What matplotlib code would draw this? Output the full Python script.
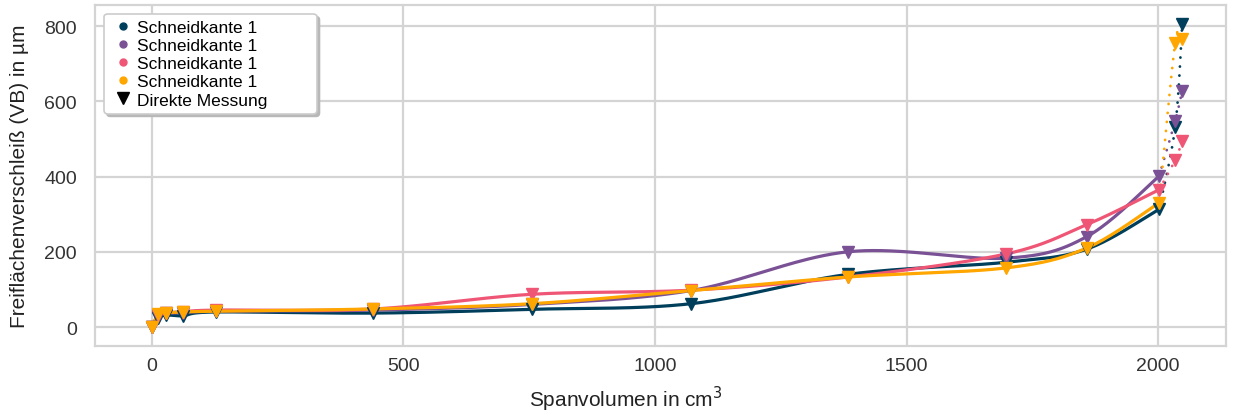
import numpy as np
import matplotlib.pyplot as plt
from matplotlib.lines import Line2D

plt.rcParams['font.family'] = ['Liberation Sans', 'DejaVu Sans']

# Spanvolumen (cm^3) der Messpunkte
vol = [0, 13, 28, 62, 127, 440, 755, 1072, 1384, 1697, 1858, 2002]
# extrapolierter Bereich (gepunktet)
vol_ext = [2002, 2034, 2048]

# Verschleiss VB in um je Schneidkante
vb_navy = [0, 25, 32, 30, 40, 37, 47, 62, 140, 172, 207, 313]
vb_purple = [0, 30, 36, 38, 42, 45, 60, 97, 200, 183, 240, 401]
vb_pink = [0, 33, 38, 40, 45, 48, 87, 98, 133, 194, 272, 365]
vb_orange = [0, 35, 38, 40, 42, 48, 62, 97, 133, 157, 210, 330]

ext_navy = [313, 532, 805]
ext_purple = [401, 548, 628]
ext_pink = [365, 444, 495]
ext_orange = [330, 755, 766]

colors = ['#003f5c', '#7a5195', '#ef5675', '#ffa600']
labels = ['Schneidkante 1'] * 4


def glatt(xs, ys, n=40):
    # geglaettete Linie wie in Excel (Bezier mit Tangenten aus Nachbarpunkten)
    p = np.column_stack([xs, ys]).astype(float)
    out = []
    for i in range(len(p) - 1):
        prev = p[i - 1] if i > 0 else p[i]
        nxt = p[i + 2] if i + 2 < len(p) else p[i + 1]
        c0 = p[i]
        c1 = p[i] + (p[i + 1] - prev) / 6
        c2 = p[i + 1] - (nxt - p[i]) / 6
        c3 = p[i + 1]
        t = np.linspace(0, 1, n)[:, None]
        seg = ((1 - t) ** 3 * c0 + 3 * (1 - t) ** 2 * t * c1
               + 3 * (1 - t) * t ** 2 * c2 + t ** 3 * c3)
        out.append(seg if i == 0 else seg[1:])
    out = np.vstack(out)
    return out[:, 0], out[:, 1]


fig = plt.figure(figsize=(12.39, 4.14), dpi=100)
ax = fig.add_axes([0.0767, 0.1618, 0.9128, 0.8237])

serien = [(vb_navy, ext_navy), (vb_purple, ext_purple),
          (vb_pink, ext_pink), (vb_orange, ext_orange)]

for (vb, ext), c in zip(serien, colors):
    sx, sy = glatt(vol, vb)
    ax.plot(sx, sy, color=c, lw=2.3, solid_capstyle='round', zorder=3)
    ex, ey = glatt(vol_ext, ext)
    ax.plot(ex, ey, color=c, lw=2.0, linestyle=(0, (0.05, 3.2)),
            dash_capstyle='round', zorder=3)
    ax.plot(vol, vb, linestyle='none', marker='v', markersize=8.5,
            color=c, zorder=4)
    ax.plot(vol_ext[1:], ext[1:], linestyle='none', marker='v',
            markersize=8.5, color=c, zorder=4)

ax.set_xlim(-113, 2135)
ax.set_ylim(-50.5, 856)
ax.set_xticks([0, 500, 1000, 1500, 2000])
ax.set_yticks([0, 200, 400, 600, 800])
ax.grid(True, color='#d4d4d4', lw=1.6, zorder=0)
ax.set_axisbelow(True)
for s in ax.spines.values():
    s.set_color('#d4d4d4')
    s.set_linewidth(1.6)
ax.tick_params(length=0, labelsize=14, labelcolor='#333333')
ax.tick_params(axis='y', pad=13)
ax.tick_params(axis='x', pad=8)

ax.set_xlabel('Spanvolumen in cm$^3$', fontsize=15, color='#222222')
ax.xaxis.set_label_coords(0.469, -0.112)
ax.set_ylabel('Freiflächenverschleiß (VB) in µm', fontsize=15,
              color='#222222', labelpad=11)

handles = [Line2D([], [], linestyle='none', marker='o', markersize=5,
                  color=c) for c in colors]
handles.append(Line2D([], [], linestyle='none', marker='v', markersize=8,
                      color='black'))
leg = ax.legend(handles, labels + ['Direkte Messung'], loc='upper left',
                bbox_to_anchor=(0.008, 0.974, 0.188, 0.0), mode='expand',
                borderaxespad=0, fontsize=12.5, handlelength=1.5,
                handletextpad=0.05, labelspacing=0.17, borderpad=0.35,
                frameon=True, fancybox=True,
                shadow={'color': '#b8b8b8', 'alpha': 1},
                framealpha=1, edgecolor='#cccccc')
leg.get_frame().set_linewidth(1.2)

fig.savefig('out.png', dpi=100)
